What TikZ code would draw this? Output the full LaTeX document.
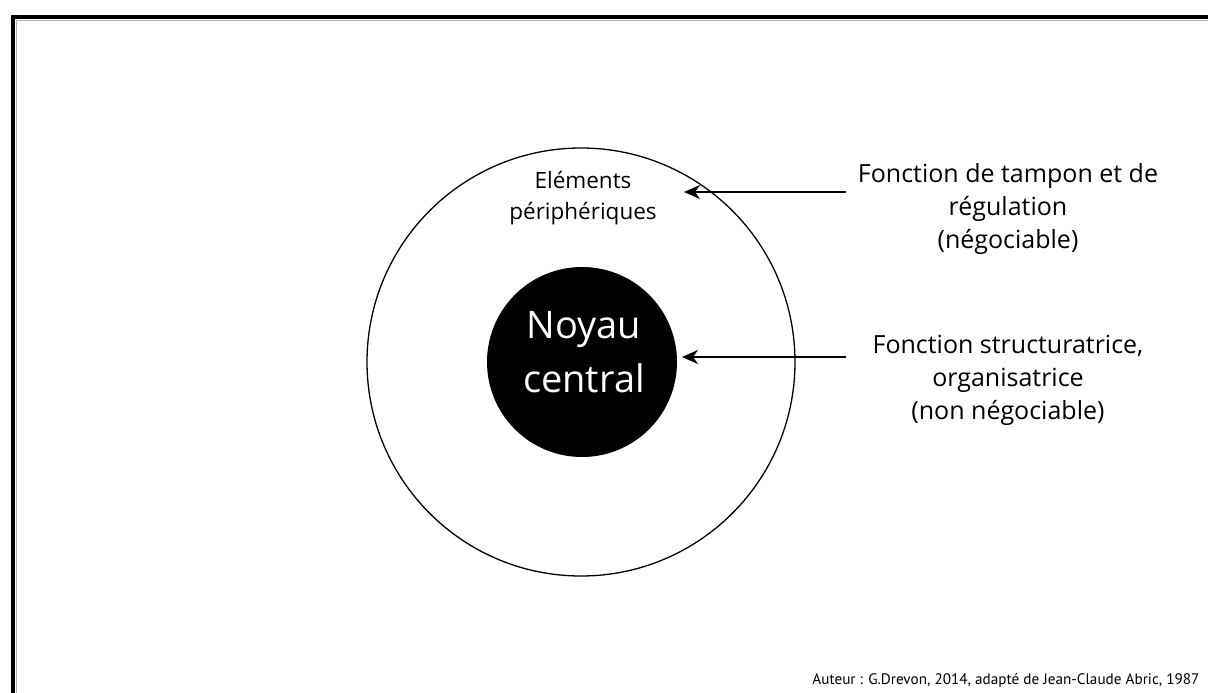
\documentclass[tikz,border=0pt]{standalone}
\usepackage{fontspec}
\setmainfont{Open Sans}
\newfontfamily\creditfont{PT Sans}
\usetikzlibrary{arrows.meta}
\tikzstyle{zone_outer} = [circle, draw, line width=1.3pt, inner sep=0pt, minimum size=428pt]
\tikzstyle{zone_core} = [circle, fill=black, inner sep=0pt, minimum size=190pt]
\tikzstyle{label_core} = [text=white, align=center, inner sep=0pt, font=\fontsize{38}{54}\selectfont]
\tikzstyle{label_zone} = [align=center, font=\fontsize{22.5}{31}\selectfont]
\tikzstyle{label_role} = [align=center, font=\fontsize{25}{33}\selectfont]
\tikzstyle{edge_arrow} = [line width=1.3pt, -{Stealth[length=16pt, width=14pt, inset=5pt]}]

\begin{document}
\begin{tikzpicture}[x=1pt, y=-1pt]
			\useasboundingbox (0,0) rectangle (1208,693);
			% cadre
			\draw[gray!60, line width=1pt] (16,20.5)--(1208,20.5) (16.5,20)--(16.5,693);
			\draw[line width=4pt] (13,17)--(1208,17) (13,15)--(13,693);
			
			\node (P) at (581,362) [zone_outer] {};
			\node (N) at (582,362) [zone_core] {};
			\node (NL) at (584,352) [label_core] {Noyau\\central};
			\node (E) at (583,198) [label_zone] {Eléments\\périphériques};
			
			\node (T) at (1008,209) [label_role] {Fonction de tampon et de\\régulation\\(négociable)};
			\node (S) at (1008,380) [label_role] {Fonction structuratrice,\\organisatrice\\(non négociable)};
			
			\coordinate (T0) at (846,192);
			\coordinate (T1) at (684,192);
			\coordinate (S0) at (846,357);
			\coordinate (S1) at (682,357);
			\draw[edge_arrow] (T0)--(T1);
			\draw[edge_arrow] (S0)--(S1);
			
			\node (A) at (1203,679) [anchor=base east, font=\creditfont\fontsize{15.2}{18}\selectfont, yshift=-5pt] {Auteur : G.Drevon, 2014, adapté de Jean-Claude Abric, 1987};
		\end{tikzpicture}
\end{document}
